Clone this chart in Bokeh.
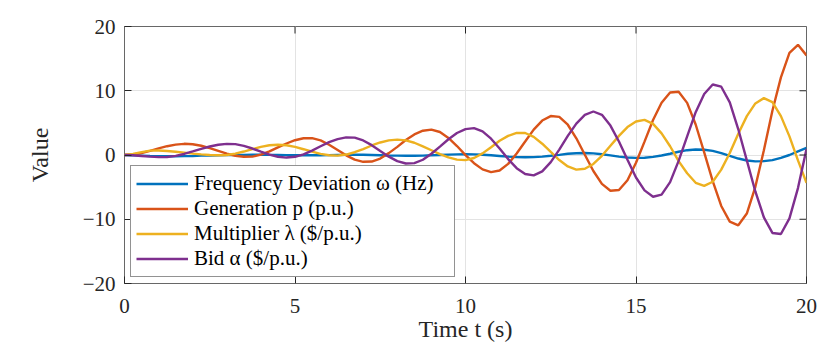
import numpy as np
from bokeh.plotting import figure
from bokeh.models import Range1d, FixedTicker
from bokeh.embed import file_html
from bokeh.resources import INLINE

# ---- data ----
time_s = [i * 0.25 for i in range(81)]

freq_dev = [0, -0.05, -0.1, -0.15, -0.18, -0.2, -0.2, -0.18, -0.15, -0.1, -0.07, -0.04,
            -0.02, 0.0, 0.02, 0.03, 0.03, 0.02, 0.0, -0.02, -0.04, -0.05, -0.05, -0.04,
            -0.02, 0.0, 0.02, 0.03, 0.03, 0.01, -0.03, -0.07, -0.1, -0.12, -0.12, -0.1,
            -0.05, 0.0, 0.06, 0.1, 0.12, 0.1, 0.04, -0.05, -0.15, -0.25, -0.32, -0.35,
            -0.33, -0.25, -0.12, 0.02, 0.2, 0.28, 0.3, 0.25, 0.12, -0.05, -0.25, -0.38,
            -0.44, -0.42, -0.3, -0.08, 0.2, 0.5, 0.75, 0.86, 0.82, 0.65, 0.3, -0.15,
            -0.55, -0.85, -1.0, -0.95, -0.8, -0.45, 0.0, 0.55, 1.1]

generation = [0, 0.1, 0.31, 0.64, 1.02, 1.37, 1.62, 1.74, 1.68, 1.44, 1.07, 0.64,
              0.21, -0.12, -0.28, -0.25, 0.05, 0.56, 1.18, 1.79, 2.3, 2.6, 2.62, 2.28,
              1.6, 0.78, -0.05, -0.73, -1.06, -1.02, -0.55, 0.29, 1.27, 2.33, 3.21, 3.78,
              3.95, 3.58, 2.66, 1.4, -0.02, -1.28, -2.24, -2.66, -2.41, -1.38, 0.24, 2.09,
              3.95, 5.36, 6.06, 5.94, 4.71, 2.6, 0.03, -2.49, -4.5, -5.56, -5.44, -3.92,
              -1.21, 2.08, 5.45, 8.12, 9.73, 9.84, 8.11, 4.75, 0.42, -4.07, -7.93, -10.37,
              -10.94, -9.11, -4.95, 0.74, 6.88, 12.08, 15.88, 17.15, 15.5]

multiplier = [0, 0.18, 0.45, 0.68, 0.69, 0.63, 0.51, 0.37, 0.22, 0.09, 0.0, -0.05,
              0.0, 0.22, 0.54, 0.92, 1.27, 1.51, 1.6, 1.51, 1.26, 0.9, 0.52, 0.17,
              -0.04, -0.1, 0.07, 0.43, 0.93, 1.48, 1.95, 2.28, 2.4, 2.27, 1.91, 1.34,
              0.74, 0.13, -0.38, -0.72, -0.8, -0.47, 0.25, 1.21, 2.21, 2.98, 3.44, 3.42,
              2.82, 1.76, 0.48, -0.79, -1.78, -2.27, -2.14, -1.39, -0.12, 1.43, 2.98, 4.34,
              5.21, 5.46, 4.85, 3.37, 1.36, -0.95, -2.85, -4.32, -4.8, -4.16, -2.27, 0.32,
              3.32, 6.05, 8.03, 8.85, 8.22, 6.05, 2.9, -0.84, -4.33]

bid = [0, -0.04, -0.15, -0.26, -0.33, -0.31, -0.14, 0.16, 0.55, 0.96, 1.32, 1.59,
       1.73, 1.69, 1.43, 1.01, 0.52, 0.07, -0.27, -0.4, -0.28, 0.11, 0.69, 1.36,
       2.01, 2.48, 2.75, 2.7, 2.26, 1.53, 0.63, -0.26, -0.96, -1.32, -1.26, -0.74,
       0.2, 1.31, 2.45, 3.42, 4.03, 4.19, 3.68, 2.54, 1.02, -0.64, -2.05, -2.95,
       -3.17, -2.54, -1.1, 0.84, 2.98, 4.88, 6.24, 6.77, 6.25, 4.58, 2.1, -0.75,
       -3.5, -5.5, -6.5, -6.17, -4.22, -0.92, 2.89, 6.67, 9.49, 10.97, 10.63, 8.2,
       4.0, -0.84, -5.68, -9.7, -12.13, -12.3, -9.87, -5.15, 0.92]

series_labels = ["Frequency Deviation ω (Hz)", "Generation p (p.u.)",
                 "Multiplier λ ($/p.u.)", "Bid α ($/p.u.)"]
series_colors = ["#0072BD", "#D95319", "#EDB120", "#7E2F8E"]
x_ticks = [0, 5, 10, 15, 20]
y_ticks = [-20, -10, 0, 10, 20]
x_min, x_max = 0, 20
y_min, y_max = -20, 20

FONT = "Liberation Serif"
AX = "#262626"

p = figure(width=830, height=347, output_backend="svg", toolbar_location=None,
           x_range=Range1d(x_min, x_max), y_range=Range1d(y_min, y_max),
           min_border_left=124, min_border_right=24, min_border_top=26,
           min_border_bottom=64)

for ys, lab, col in zip([freq_dev, generation, multiplier, bid], series_labels, series_colors):
    p.line(time_s, ys, line_color=col, line_width=2.4, legend_label=lab)

p.outline_line_color = AX
p.outline_line_width = 1
p.outline_line_alpha = 0.7

for ax in (p.xaxis[0], p.yaxis[0]):
    ax.major_tick_in = 7
    ax.major_tick_out = 0
    ax.minor_tick_in = 0
    ax.minor_tick_out = 0
    ax.axis_line_color = None
    ax.major_tick_line_color = AX
    ax.major_label_text_font = FONT
    ax.major_label_text_font_size = "21px"
    ax.major_label_text_color = "#262626"
    ax.axis_label_text_font = FONT
    ax.axis_label_text_font_size = "24px"
    ax.axis_label_text_font_style = "normal"
    ax.axis_label_text_color = "#262626"

p.xaxis.ticker = FixedTicker(ticks=x_ticks)
p.yaxis.ticker = FixedTicker(ticks=y_ticks)
p.xaxis.axis_label = "Time t (s)"
p.yaxis.axis_label = "Value"
p.xaxis.major_label_standoff = 15
p.xaxis.axis_label_standoff = 0
p.yaxis.major_label_standoff = 9
p.yaxis.axis_label_standoff = 27

# mirrored inner ticks on top and right edges (box on)
p.ray(x=x_ticks[1:-1], y=[y_max] * 3, length=7, length_units="screen",
      angle=-np.pi / 2, line_color=AX, line_width=1)
p.ray(x=[x_max] * 3, y=y_ticks[1:-1], length=7, length_units="screen",
      angle=np.pi, line_color=AX, line_width=1)

p.xgrid.ticker = FixedTicker(ticks=x_ticks)
p.ygrid.ticker = FixedTicker(ticks=y_ticks)
p.grid.grid_line_color = "#e3e3e3"
p.grid.grid_line_width = 1

lg = p.legend[0]
lg.location = "bottom_left"
lg.margin = 6
lg.padding = 5
lg.spacing = 0
lg.glyph_width = 52
lg.glyph_height = 25
lg.label_height = 25
lg.label_standoff = 6
lg.label_width = 255
lg.label_text_font = FONT
lg.label_text_font_size = "21px"
lg.label_text_color = "#000000"
lg.border_line_color = "#262626"
lg.border_line_width = 1
lg.background_fill_color = "white"
lg.background_fill_alpha = 1.0

p.background_fill_color = "white"
p.border_fill_color = "white"

open("out.html", "w").write(file_html(p, INLINE))
